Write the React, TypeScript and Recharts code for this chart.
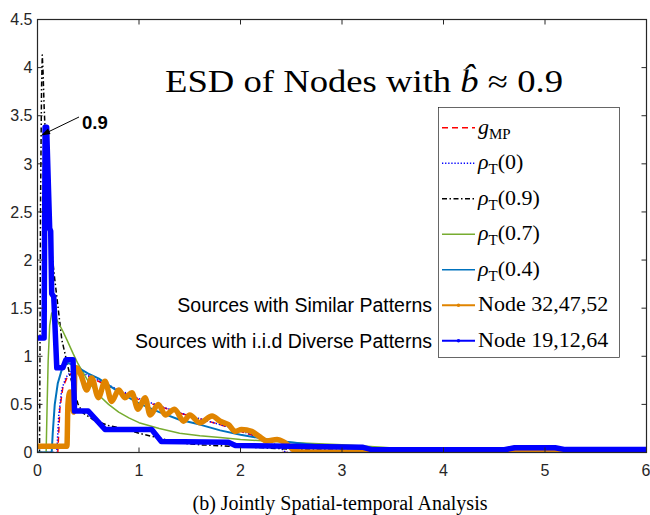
import React from 'react';
import { LineChart, Line, XAxis, YAxis } from 'recharts';

// g_MP (red dashed)
const mpX = [0, 0.2, 0.22, 0.25, 0.3, 0.35, 0.4, 0.5, 0.6, 0.8, 1.0, 1.2, 1.4, 1.6, 1.8, 2.0, 2.2, 2.3, 2.38, 2.41, 3, 4, 5, 6];
const mpY = [0, 0, 0.45, 0.68, 0.8, 0.83, 0.82, 0.79, 0.74, 0.64, 0.55, 0.48, 0.41, 0.35, 0.29, 0.22, 0.15, 0.11, 0.05, 0, 0, 0, 0, 0];

// rho_T(0) (blue dotted)
const rho0X = [0, 0.19, 0.21, 0.24, 0.28, 0.33, 0.4, 0.5, 0.6, 0.8, 1.0, 1.2, 1.4, 1.6, 1.8, 2.0, 2.2, 2.3, 2.4, 2.45, 6];
const rho0Y = [0, 0, 0.4, 0.66, 0.78, 0.84, 0.84, 0.8, 0.75, 0.65, 0.56, 0.485, 0.415, 0.35, 0.29, 0.225, 0.155, 0.11, 0.04, 0, 0];

// rho_T(0.9) (black dash-dot)
const rho9X = [0, 0.02, 0.025, 0.03, 0.04, 0.047, 0.055, 0.065, 0.09, 0.12, 0.17, 0.24, 0.32, 0.4, 0.45, 0.55, 0.7, 0.88, 1.0, 1.2, 1.4, 1.6, 2.0, 2.5, 3.0, 3.3, 3.6, 4, 6];
const rho9Y = [0, 0, 1.2, 2.6, 3.8, 4.13, 3.95, 3.6, 2.97, 2.3, 1.8, 1.17, 0.8, 0.5, 0.41, 0.34, 0.28, 0.24, 0.2, 0.15, 0.1, 0.08, 0.06, 0.035, 0.025, 0.015, 0.005, 0, 0];

// rho_T(0.7) (green)
const rho7X = [0, 0.085, 0.095, 0.105, 0.12, 0.14, 0.16, 0.2, 0.25, 0.29, 0.35, 0.4, 0.5, 0.6, 0.7, 0.8, 0.9, 1.0, 1.2, 1.4, 1.6, 1.8, 2.0, 2.3, 2.6, 3.0, 3.4, 3.7, 3.9, 6];
const rho7Y = [0, 0, 0.5, 0.95, 1.32, 1.45, 1.44, 1.36, 1.26, 1.17, 1.03, 0.92, 0.74, 0.6, 0.5, 0.42, 0.36, 0.31, 0.25, 0.2, 0.175, 0.155, 0.135, 0.117, 0.1, 0.08, 0.055, 0.03, 0.01, 0];

// rho_T(0.4) (teal)
const rho4X = [0, 0.14, 0.15, 0.17, 0.2, 0.25, 0.3, 0.35, 0.42, 0.5, 0.6, 0.7, 0.8, 0.9, 1.0, 1.2, 1.4, 1.6, 1.8, 2.0, 2.3, 2.6, 2.8, 3.0, 3.3, 3.6, 6];
const rho4Y = [0, 0, 0.2, 0.5, 0.72, 0.9, 0.93, 0.91, 0.87, 0.82, 0.77, 0.7, 0.63, 0.57, 0.51, 0.42, 0.34, 0.29, 0.23, 0.185, 0.13, 0.093, 0.07, 0.05, 0.03, 0.01, 0];

// Node 32,47,52 (orange)
const simX = [0, 0.29, 0.3, 0.32, 0.34, 0.355, 0.37, 0.386, 0.43, 0.485, 0.534, 0.6, 0.665, 0.73, 0.8, 0.86, 0.93, 0.99, 1.06, 1.11, 1.19, 1.26, 1.35, 1.44, 1.5, 1.6, 1.72, 1.8, 1.88, 1.95, 2.01, 2.11, 2.18, 2.26, 2.36, 2.44, 2.55, 2.6, 6];
const simY = [0.065, 0.065, 0.5, 0.63, 0.6, 0.42, 0.86, 0.88, 0.8, 0.65, 0.775, 0.57, 0.74, 0.53, 0.65, 0.57, 0.62, 0.45, 0.57, 0.39, 0.5, 0.39, 0.45, 0.325, 0.39, 0.31, 0.38, 0.325, 0.29, 0.22, 0.24, 0.22, 0.17, 0.12, 0.135, 0.1, 0.01, 0.005, 0.005];

// Node 19,12,64 (blue)
const iidX = [0, 0.065, 0.075, 0.09, 0.12, 0.13, 0.14, 0.16, 0.19, 0.25, 0.28, 0.35, 0.365, 0.5, 0.665, 1.125, 1.22, 1.88, 1.95, 3.2, 3.3, 4.6, 4.7, 5.1, 5.2, 6];
const iidY = [1.19, 1.19, 3.38, 3.38, 2.33, 2.3, 1.65, 1.62, 0.88, 0.88, 0.965, 0.965, 0.43, 0.43, 0.24, 0.24, 0.115, 0.107, 0.073, 0.055, 0.028, 0.028, 0.05, 0.05, 0.03, 0.03];

const xTicks = [0, 1, 2, 3, 4, 5, 6];
const yTicks = [0, 0.5, 1, 1.5, 2, 2.5, 3, 3.5, 4, 4.5];
const X_MAX = 6;
const Y_MAX = 4.5;

const zip = (xs: number[], ys: number[]) => xs.map((x, i) => ({ x, y: ys[i] }));

// plot box (matches the chart margins below)
const W = 650;
const H = 515;
const M = { top: 19.5, right: 3.5, bottom: 32.5, left: 0 };
const Y_AXIS_W = 37.5;
const X_AXIS_H = 30;
const plotL = M.left + Y_AXIS_W;
const plotT = M.top;
const plotW = W - plotL - M.right;
const plotH = H - M.top - M.bottom - X_AXIS_H;

const SANS = '"Liberation Sans", Arial, sans-serif';
const SERIF = '"Liberation Serif", "Times New Roman", serif';
const AXIS = '#262626';
const ORANGE = '#E08400';
const TEAL = '#0072BD';
const GREEN = '#77AC30';

const series = [
  { key: 'mp', data: zip(mpX, mpY), color: '#FF0000', width: 1.5, dash: '6 4', curve: 'linear' },
  { key: 'r0', data: zip(rho0X, rho0Y), color: '#0000FF', width: 1.5, dash: '1.3 1.8', curve: 'linear' },
  { key: 'r9', data: zip(rho9X, rho9Y), color: '#000000', width: 1.5, dash: '5 2.5 1.5 2.5', curve: 'linear' },
  { key: 'r7', data: zip(rho7X, rho7Y), color: GREEN, width: 1.5, dash: undefined, curve: 'linear' },
  { key: 'r4', data: zip(rho4X, rho4Y), color: TEAL, width: 2, dash: undefined, curve: 'linear' },
  { key: 'sim', data: zip(simX, simY), color: ORANGE, width: 5.5, dash: undefined, curve: 'monotoneX' },
  { key: 'iid', data: zip(iidX, iidY), color: '#0000FF', width: 5.5, dash: undefined, curve: 'linear' },
];

const sub = (s: string) => (
  <tspan fontSize={15} dy={5}>{s}</tspan>
);

const legendRows: { color: string; width: number; dash?: string; dot?: boolean; label: React.ReactNode }[] = [
  { color: '#FF0000', width: 1.5, dash: '6 4', label: <><tspan fontStyle="italic">g</tspan>{sub('MP')}</> },
  { color: '#0000FF', width: 1.5, dash: '1.3 1.8', label: <><tspan fontStyle="italic">ρ</tspan>{sub('T')}<tspan dy={-5}>(0)</tspan></> },
  { color: '#000000', width: 1.5, dash: '5 2.5 1.5 2.5', label: <><tspan fontStyle="italic">ρ</tspan>{sub('T')}<tspan dy={-5}>(0.9)</tspan></> },
  { color: GREEN, width: 1.5, label: <><tspan fontStyle="italic">ρ</tspan>{sub('T')}<tspan dy={-5}>(0.7)</tspan></> },
  { color: TEAL, width: 1.5, label: <><tspan fontStyle="italic">ρ</tspan>{sub('T')}<tspan dy={-5}>(0.4)</tspan></> },
  { color: ORANGE, width: 2, dot: true, label: 'Node 32,47,52' },
  { color: '#0000FF', width: 2, dot: true, label: 'Node 19,12,64' },
];

const XTick = (props: any) => {
  const { x, y, payload } = props;
  return (
    <text x={x} y={y} dy="0.71em" textAnchor="middle" fontFamily={SANS} fontSize={16} fill={AXIS}>
      {payload.value}
    </text>
  );
};

const YTick = (props: any) => {
  const { x, y, payload } = props;
  return (
    <text x={x} y={y} dy="0.355em" textAnchor="end" fontFamily={SANS} fontSize={16} fill={AXIS}>
      {payload.value}
    </text>
  );
};

export default function App() {
  const tickLen = 5;
  return (
    <div style={{ position: 'absolute', left: 0, top: 0, width: W, height: H, background: '#fff' }}>
      <LineChart width={W} height={H} margin={M}>
        <XAxis
          type="number"
          dataKey="x"
          domain={[0, X_MAX]}
          ticks={xTicks}
          allowDataOverflow
          height={X_AXIS_H}
          stroke={AXIS}
          tickSize={-tickLen}
          tickMargin={17}
          tick={<XTick />}
        />
        <YAxis
          type="number"
          domain={[0, Y_MAX]}
          ticks={yTicks}
          allowDataOverflow
          width={Y_AXIS_W}
          stroke={AXIS}
          tickSize={-tickLen}
          tickMargin={10}
          tick={<YTick />}
        />
        {series.map((s) => (
          <Line
            key={s.key}
            data={s.data}
            dataKey="y"
            type={s.curve as any}
            stroke={s.color}
            strokeWidth={s.width}
            strokeDasharray={s.dash}
            strokeLinejoin="round"
            dot={false}
            activeDot={false}
            isAnimationActive={false}
          />
        ))}
      </LineChart>
      <svg
        width={W}
        height={H}
        style={{ position: 'absolute', left: 0, top: 0, pointerEvents: 'none' }}
      >
        {/* axes box frame with inward ticks on the top and right */}
        <rect x={plotL} y={plotT} width={plotW} height={plotH} fill="none" stroke={AXIS} strokeWidth={1.2} />
        {xTicks.map((t) => {
          const px = plotL + (t / X_MAX) * plotW;
          return <line key={'tx' + t} x1={px} x2={px} y1={plotT} y2={plotT + tickLen} stroke={AXIS} strokeWidth={1} />;
        })}
        {yTicks.map((t) => {
          const py = plotT + plotH - (t / Y_MAX) * plotH;
          return <line key={'ty' + t} x1={plotL + plotW - tickLen} x2={plotL + plotW} y1={py} y2={py} stroke={AXIS} strokeWidth={1} />;
        })}

        <text x={165} y={92} fontFamily={SERIF} fontSize={31} fill="#000" textLength={398} lengthAdjust="spacingAndGlyphs">
          ESD of Nodes with <tspan fontStyle="italic">b̂</tspan> ≈ 0.9
        </text>

        <line x1={79} y1={117} x2={47} y2={132.5} stroke="#000" strokeWidth={1} />
        <polygon points="41,135.5 48,128.5 50.5,134" fill="#000" />
        <text x={82} y={129} fontFamily={SANS} fontWeight="bold" fontSize={18.5} fill="#000">0.9</text>

        <text x={432} y={312} textAnchor="end" fontFamily={SANS} fontSize={19.5} fill="#000">Sources with Similar Patterns</text>
        <text x={432} y={347.5} textAnchor="end" fontFamily={SANS} fontSize={19.5} fill="#000">Sources with i.i.d Diverse Patterns</text>

        <rect x={438.5} y={107.5} width={181} height={250} fill="#fff" stroke={AXIS} strokeWidth={0.7} />
        {legendRows.map((r, i) => {
          const cy = 127.7 + i * 35.5;
          return (
            <g key={i}>
              <line x1={442} x2={475} y1={cy} y2={cy} stroke={r.color} strokeWidth={r.width} strokeDasharray={r.dash} />
              {r.dot && <circle cx={458.5} cy={cy} r={1.8} fill={r.color} />}
              <text x={478} y={cy + 6} fontFamily={SERIF} fontSize={22} fill="#000">{r.label}</text>
            </g>
          );
        })}

        <text x={340} y={510} textAnchor="middle" fontFamily={SERIF} fontSize={20} fill="#000">
          (b) Jointly Spatial-temporal Analysis
        </text>
      </svg>
    </div>
  );
}
